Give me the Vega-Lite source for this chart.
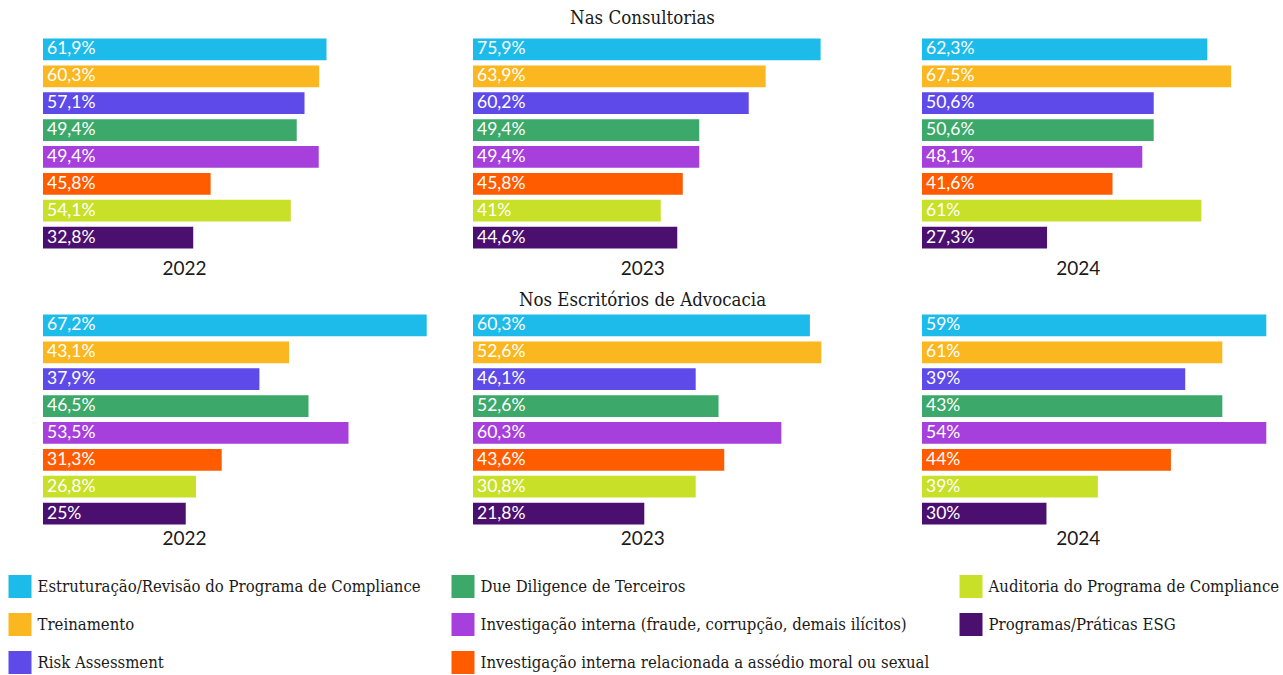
{
  "$schema": "https://vega.github.io/schema/vega-lite/v6.json",
  "padding": {"left": 8, "top": 8, "right": 0, "bottom": 0},
  "background": "white",
  "data": {"values": [
    {"grupo": "Consultorias", "ano": "2022", "servico": "Estruturação/Revisão do Programa de Compliance", "valor": 61.9, "rotulo": "61,9%"},
    {"grupo": "Consultorias", "ano": "2022", "servico": "Treinamento", "valor": 60.3, "rotulo": "60,3%"},
    {"grupo": "Consultorias", "ano": "2022", "servico": "Risk Assessment", "valor": 57.1, "rotulo": "57,1%"},
    {"grupo": "Consultorias", "ano": "2022", "servico": "Due Diligence de Terceiros", "valor": 55.4, "rotulo": "49,4%"},
    {"grupo": "Consultorias", "ano": "2022", "servico": "Investigação interna (fraude, corrupção, demais ilícitos)", "valor": 60.2, "rotulo": "49,4%"},
    {"grupo": "Consultorias", "ano": "2022", "servico": "Investigação interna relacionada a assédio moral ou sexual", "valor": 36.6, "rotulo": "45,8%"},
    {"grupo": "Consultorias", "ano": "2022", "servico": "Auditoria do Programa de Compliance", "valor": 54.1, "rotulo": "54,1%"},
    {"grupo": "Consultorias", "ano": "2022", "servico": "Programas/Práticas ESG", "valor": 32.8, "rotulo": "32,8%"},
    {"grupo": "Consultorias", "ano": "2023", "servico": "Estruturação/Revisão do Programa de Compliance", "valor": 75.9, "rotulo": "75,9%"},
    {"grupo": "Consultorias", "ano": "2023", "servico": "Treinamento", "valor": 63.9, "rotulo": "63,9%"},
    {"grupo": "Consultorias", "ano": "2023", "servico": "Risk Assessment", "valor": 60.2, "rotulo": "60,2%"},
    {"grupo": "Consultorias", "ano": "2023", "servico": "Due Diligence de Terceiros", "valor": 49.4, "rotulo": "49,4%"},
    {"grupo": "Consultorias", "ano": "2023", "servico": "Investigação interna (fraude, corrupção, demais ilícitos)", "valor": 49.4, "rotulo": "49,4%"},
    {"grupo": "Consultorias", "ano": "2023", "servico": "Investigação interna relacionada a assédio moral ou sexual", "valor": 45.8, "rotulo": "45,8%"},
    {"grupo": "Consultorias", "ano": "2023", "servico": "Auditoria do Programa de Compliance", "valor": 41, "rotulo": "41%"},
    {"grupo": "Consultorias", "ano": "2023", "servico": "Programas/Práticas ESG", "valor": 44.6, "rotulo": "44,6%"},
    {"grupo": "Consultorias", "ano": "2024", "servico": "Estruturação/Revisão do Programa de Compliance", "valor": 62.3, "rotulo": "62,3%"},
    {"grupo": "Consultorias", "ano": "2024", "servico": "Treinamento", "valor": 67.5, "rotulo": "67,5%"},
    {"grupo": "Consultorias", "ano": "2024", "servico": "Risk Assessment", "valor": 50.6, "rotulo": "50,6%"},
    {"grupo": "Consultorias", "ano": "2024", "servico": "Due Diligence de Terceiros", "valor": 50.6, "rotulo": "50,6%"},
    {"grupo": "Consultorias", "ano": "2024", "servico": "Investigação interna (fraude, corrupção, demais ilícitos)", "valor": 48.1, "rotulo": "48,1%"},
    {"grupo": "Consultorias", "ano": "2024", "servico": "Investigação interna relacionada a assédio moral ou sexual", "valor": 41.6, "rotulo": "41,6%"},
    {"grupo": "Consultorias", "ano": "2024", "servico": "Auditoria do Programa de Compliance", "valor": 61, "rotulo": "61%"},
    {"grupo": "Consultorias", "ano": "2024", "servico": "Programas/Práticas ESG", "valor": 27.3, "rotulo": "27,3%"},
    {"grupo": "Escritorios", "ano": "2022", "servico": "Estruturação/Revisão do Programa de Compliance", "valor": 67.2, "rotulo": "67,2%"},
    {"grupo": "Escritorios", "ano": "2022", "servico": "Treinamento", "valor": 43.1, "rotulo": "43,1%"},
    {"grupo": "Escritorios", "ano": "2022", "servico": "Risk Assessment", "valor": 37.9, "rotulo": "37,9%"},
    {"grupo": "Escritorios", "ano": "2022", "servico": "Due Diligence de Terceiros", "valor": 46.5, "rotulo": "46,5%"},
    {"grupo": "Escritorios", "ano": "2022", "servico": "Investigação interna (fraude, corrupção, demais ilícitos)", "valor": 53.5, "rotulo": "53,5%"},
    {"grupo": "Escritorios", "ano": "2022", "servico": "Investigação interna relacionada a assédio moral ou sexual", "valor": 31.3, "rotulo": "31,3%"},
    {"grupo": "Escritorios", "ano": "2022", "servico": "Auditoria do Programa de Compliance", "valor": 26.8, "rotulo": "26,8%"},
    {"grupo": "Escritorios", "ano": "2022", "servico": "Programas/Práticas ESG", "valor": 25, "rotulo": "25%"},
    {"grupo": "Escritorios", "ano": "2023", "servico": "Estruturação/Revisão do Programa de Compliance", "valor": 59, "rotulo": "60,3%"},
    {"grupo": "Escritorios", "ano": "2023", "servico": "Treinamento", "valor": 61, "rotulo": "52,6%"},
    {"grupo": "Escritorios", "ano": "2023", "servico": "Risk Assessment", "valor": 39, "rotulo": "46,1%"},
    {"grupo": "Escritorios", "ano": "2023", "servico": "Due Diligence de Terceiros", "valor": 43, "rotulo": "52,6%"},
    {"grupo": "Escritorios", "ano": "2023", "servico": "Investigação interna (fraude, corrupção, demais ilícitos)", "valor": 54, "rotulo": "60,3%"},
    {"grupo": "Escritorios", "ano": "2023", "servico": "Investigação interna relacionada a assédio moral ou sexual", "valor": 44, "rotulo": "43,6%"},
    {"grupo": "Escritorios", "ano": "2023", "servico": "Auditoria do Programa de Compliance", "valor": 39, "rotulo": "30,8%"},
    {"grupo": "Escritorios", "ano": "2023", "servico": "Programas/Práticas ESG", "valor": 30, "rotulo": "21,8%"},
    {"grupo": "Escritorios", "ano": "2024", "servico": "Estruturação/Revisão do Programa de Compliance", "valor": 60.3, "rotulo": "59%"},
    {"grupo": "Escritorios", "ano": "2024", "servico": "Treinamento", "valor": 52.6, "rotulo": "61%"},
    {"grupo": "Escritorios", "ano": "2024", "servico": "Risk Assessment", "valor": 46.1, "rotulo": "39%"},
    {"grupo": "Escritorios", "ano": "2024", "servico": "Due Diligence de Terceiros", "valor": 52.6, "rotulo": "43%"},
    {"grupo": "Escritorios", "ano": "2024", "servico": "Investigação interna (fraude, corrupção, demais ilícitos)", "valor": 60.3, "rotulo": "54%"},
    {"grupo": "Escritorios", "ano": "2024", "servico": "Investigação interna relacionada a assédio moral ou sexual", "valor": 43.6, "rotulo": "44%"},
    {"grupo": "Escritorios", "ano": "2024", "servico": "Auditoria do Programa de Compliance", "valor": 30.8, "rotulo": "39%"},
    {"grupo": "Escritorios", "ano": "2024", "servico": "Programas/Práticas ESG", "valor": 21.8, "rotulo": "30%"}
  ]},
  "config": {
    "view": {"stroke": null},
    "axis": {"labels": false, "ticks": false, "domain": false, "grid": false, "minExtent": 0, "titleFont": "Lato", "titleFontSize": 19, "titleFontWeight": "normal", "titleColor": "#1a1a1a"},
    "title": {"font": "DejaVu Serif Condensed", "fontSize": 18.5, "fontWeight": "normal", "color": "#1a1a1a", "anchor": "middle", "baseline": "alphabetic"},
    "concat": {"spacing": 40}
  },
  "spacing": 12,
  "vconcat": [
    {
      "title": {"text": "Nas Consultorias", "offset": 8.7, "dx": -16},
      "hconcat": [
        {
          "width": 390, "height": 215,
          "transform": [{"filter": "datum.grupo == 'Consultorias' && datum.ano == '2022'"}],
          "encoding": {
            "y": {"field": "servico", "type": "nominal", "axis": null, "sort": ["Estruturação/Revisão do Programa de Compliance", "Treinamento", "Risk Assessment", "Due Diligence de Terceiros", "Investigação interna (fraude, corrupção, demais ilícitos)", "Investigação interna relacionada a assédio moral ou sexual", "Auditoria do Programa de Compliance", "Programas/Práticas ESG"], "scale": {"paddingInner": 0.192, "paddingOuter": 0.096}}
          },
          "layer": [
            {"mark": {"type": "bar"},
             "encoding": {
               "x": {"field": "valor", "type": "quantitative", "scale": {"domain": [0, 85.15], "nice": false}, "axis": {"title": "2022", "titlePadding": 8, "titleX": 141, "titleAlign": "center"}},
               "color": {"field": "servico", "type": "nominal", "title": null,
                 "scale": {"domain": ["Estruturação/Revisão do Programa de Compliance", "Treinamento", "Risk Assessment", "Due Diligence de Terceiros", "Investigação interna (fraude, corrupção, demais ilícitos)", "Investigação interna relacionada a assédio moral ou sexual", "Auditoria do Programa de Compliance", "Programas/Práticas ESG"],
                           "range": ["#1cbbea", "#fab71f", "#5e4ae8", "#3ca96a", "#a63fdc", "#ff5c00", "#c8e028", "#4b0f70"]},
                 "legend": {"orient": "none", "legendX": -34.5, "legendY": 539, "columns": 3, "columnPadding": 30, "rowPadding": 15, "symbolType": "square", "symbolSize": 529, "symbolStrokeWidth": 0, "symbolOpacity": 1, "labelFont": "DejaVu Serif Condensed", "labelFontSize": 16.6, "labelColor": "#1a1a1a", "labelOffset": 6, "labelLimit": 800}}
             }},
            {"mark": {"type": "text", "align": "left", "baseline": "middle", "dx": 4, "color": "white", "font": "Lato", "fontSize": 17.5},
             "encoding": {"x": {"datum": 0}, "text": {"field": "rotulo"}}}
          ]
        },
        {
          "width": 408.5, "height": 215,
          "transform": [{"filter": "datum.grupo == 'Consultorias' && datum.ano == '2023'"}],
          "encoding": {
            "y": {"field": "servico", "type": "nominal", "axis": null, "sort": ["Estruturação/Revisão do Programa de Compliance", "Treinamento", "Risk Assessment", "Due Diligence de Terceiros", "Investigação interna (fraude, corrupção, demais ilícitos)", "Investigação interna relacionada a assédio moral ou sexual", "Auditoria do Programa de Compliance", "Programas/Práticas ESG"], "scale": {"paddingInner": 0.192, "paddingOuter": 0.096}}
          },
          "layer": [
            {"mark": {"type": "bar"},
             "encoding": {
               "x": {"field": "valor", "type": "quantitative", "scale": {"domain": [0, 89.19], "nice": false}, "axis": {"title": "2023", "titlePadding": 8, "titleX": 169.2, "titleAlign": "center"}},
               "color": {"field": "servico", "type": "nominal", "title": null,
                 "scale": {"domain": ["Estruturação/Revisão do Programa de Compliance", "Treinamento", "Risk Assessment", "Due Diligence de Terceiros", "Investigação interna (fraude, corrupção, demais ilícitos)", "Investigação interna relacionada a assédio moral ou sexual", "Auditoria do Programa de Compliance", "Programas/Práticas ESG"],
                           "range": ["#1cbbea", "#fab71f", "#5e4ae8", "#3ca96a", "#a63fdc", "#ff5c00", "#c8e028", "#4b0f70"]},
                 "legend": {"orient": "none", "legendX": -34.5, "legendY": 539, "columns": 3, "columnPadding": 30, "rowPadding": 15, "symbolType": "square", "symbolSize": 529, "symbolStrokeWidth": 0, "symbolOpacity": 1, "labelFont": "DejaVu Serif Condensed", "labelFontSize": 16.6, "labelColor": "#1a1a1a", "labelOffset": 6, "labelLimit": 800}}
             }},
            {"mark": {"type": "text", "align": "left", "baseline": "middle", "dx": 4, "color": "white", "font": "Lato", "fontSize": 17.5},
             "encoding": {"x": {"datum": 0}, "text": {"field": "rotulo"}}}
          ]
        },
        {
          "width": 352, "height": 215,
          "transform": [{"filter": "datum.grupo == 'Consultorias' && datum.ano == '2024'"}],
          "encoding": {
            "y": {"field": "servico", "type": "nominal", "axis": null, "sort": ["Estruturação/Revisão do Programa de Compliance", "Treinamento", "Risk Assessment", "Due Diligence de Terceiros", "Investigação interna (fraude, corrupção, demais ilícitos)", "Investigação interna relacionada a assédio moral ou sexual", "Auditoria do Programa de Compliance", "Programas/Práticas ESG"], "scale": {"paddingInner": 0.192, "paddingOuter": 0.096}}
          },
          "layer": [
            {"mark": {"type": "bar"},
             "encoding": {
               "x": {"field": "valor", "type": "quantitative", "scale": {"domain": [0, 76.86], "nice": false}, "axis": {"title": "2024", "titlePadding": 8, "titleX": 155.7, "titleAlign": "center"}},
               "color": {"field": "servico", "type": "nominal", "title": null,
                 "scale": {"domain": ["Estruturação/Revisão do Programa de Compliance", "Treinamento", "Risk Assessment", "Due Diligence de Terceiros", "Investigação interna (fraude, corrupção, demais ilícitos)", "Investigação interna relacionada a assédio moral ou sexual", "Auditoria do Programa de Compliance", "Programas/Práticas ESG"],
                           "range": ["#1cbbea", "#fab71f", "#5e4ae8", "#3ca96a", "#a63fdc", "#ff5c00", "#c8e028", "#4b0f70"]},
                 "legend": {"orient": "none", "legendX": -34.5, "legendY": 539, "columns": 3, "columnPadding": 30, "rowPadding": 15, "symbolType": "square", "symbolSize": 529, "symbolStrokeWidth": 0, "symbolOpacity": 1, "labelFont": "DejaVu Serif Condensed", "labelFontSize": 16.6, "labelColor": "#1a1a1a", "labelOffset": 6, "labelLimit": 800}}
             }},
            {"mark": {"type": "text", "align": "left", "baseline": "middle", "dx": 4, "color": "white", "font": "Lato", "fontSize": 17.5},
             "encoding": {"x": {"datum": 0}, "text": {"field": "rotulo"}}}
          ]
        }
      ]
    },
    {
      "title": {"text": "Nos Escritórios de Advocacia", "offset": 3, "dx": -16},
      "hconcat": [
        {
          "width": 390, "height": 215,
          "transform": [{"filter": "datum.grupo == 'Escritorios' && datum.ano == '2022'"}],
          "encoding": {
            "y": {"field": "servico", "type": "nominal", "axis": null, "sort": ["Estruturação/Revisão do Programa de Compliance", "Treinamento", "Risk Assessment", "Due Diligence de Terceiros", "Investigação interna (fraude, corrupção, demais ilícitos)", "Investigação interna relacionada a assédio moral ou sexual", "Auditoria do Programa de Compliance", "Programas/Práticas ESG"], "scale": {"paddingInner": 0.192, "paddingOuter": 0.096}}
          },
          "layer": [
            {"mark": {"type": "bar"},
             "encoding": {
               "x": {"field": "valor", "type": "quantitative", "scale": {"domain": [0, 68.30], "nice": false}, "axis": {"title": "2022", "titlePadding": 2, "titleX": 141, "titleAlign": "center"}},
               "color": {"field": "servico", "type": "nominal", "title": null,
                 "scale": {"domain": ["Estruturação/Revisão do Programa de Compliance", "Treinamento", "Risk Assessment", "Due Diligence de Terceiros", "Investigação interna (fraude, corrupção, demais ilícitos)", "Investigação interna relacionada a assédio moral ou sexual", "Auditoria do Programa de Compliance", "Programas/Práticas ESG"],
                           "range": ["#1cbbea", "#fab71f", "#5e4ae8", "#3ca96a", "#a63fdc", "#ff5c00", "#c8e028", "#4b0f70"]},
                 "legend": {"orient": "none", "legendX": -34.5, "legendY": 539, "columns": 3, "columnPadding": 30, "rowPadding": 15, "symbolType": "square", "symbolSize": 529, "symbolStrokeWidth": 0, "symbolOpacity": 1, "labelFont": "DejaVu Serif Condensed", "labelFontSize": 16.6, "labelColor": "#1a1a1a", "labelOffset": 6, "labelLimit": 800}}
             }},
            {"mark": {"type": "text", "align": "left", "baseline": "middle", "dx": 4, "color": "white", "font": "Lato", "fontSize": 17.5},
             "encoding": {"x": {"datum": 0}, "text": {"field": "rotulo"}}}
          ]
        },
        {
          "width": 408.5, "height": 215,
          "transform": [{"filter": "datum.grupo == 'Escritorios' && datum.ano == '2023'"}],
          "encoding": {
            "y": {"field": "servico", "type": "nominal", "axis": null, "sort": ["Estruturação/Revisão do Programa de Compliance", "Treinamento", "Risk Assessment", "Due Diligence de Terceiros", "Investigação interna (fraude, corrupção, demais ilícitos)", "Investigação interna relacionada a assédio moral ou sexual", "Auditoria do Programa de Compliance", "Programas/Práticas ESG"], "scale": {"paddingInner": 0.192, "paddingOuter": 0.096}}
          },
          "layer": [
            {"mark": {"type": "bar"},
             "encoding": {
               "x": {"field": "valor", "type": "quantitative", "scale": {"domain": [0, 71.54], "nice": false}, "axis": {"title": "2023", "titlePadding": 2, "titleX": 169.2, "titleAlign": "center"}},
               "color": {"field": "servico", "type": "nominal", "title": null,
                 "scale": {"domain": ["Estruturação/Revisão do Programa de Compliance", "Treinamento", "Risk Assessment", "Due Diligence de Terceiros", "Investigação interna (fraude, corrupção, demais ilícitos)", "Investigação interna relacionada a assédio moral ou sexual", "Auditoria do Programa de Compliance", "Programas/Práticas ESG"],
                           "range": ["#1cbbea", "#fab71f", "#5e4ae8", "#3ca96a", "#a63fdc", "#ff5c00", "#c8e028", "#4b0f70"]},
                 "legend": {"orient": "none", "legendX": -34.5, "legendY": 539, "columns": 3, "columnPadding": 30, "rowPadding": 15, "symbolType": "square", "symbolSize": 529, "symbolStrokeWidth": 0, "symbolOpacity": 1, "labelFont": "DejaVu Serif Condensed", "labelFontSize": 16.6, "labelColor": "#1a1a1a", "labelOffset": 6, "labelLimit": 800}}
             }},
            {"mark": {"type": "text", "align": "left", "baseline": "middle", "dx": 4, "color": "white", "font": "Lato", "fontSize": 17.5},
             "encoding": {"x": {"datum": 0}, "text": {"field": "rotulo"}}}
          ]
        },
        {
          "width": 352, "height": 215,
          "transform": [{"filter": "datum.grupo == 'Escritorios' && datum.ano == '2024'"}],
          "encoding": {
            "y": {"field": "servico", "type": "nominal", "axis": null, "sort": ["Estruturação/Revisão do Programa de Compliance", "Treinamento", "Risk Assessment", "Due Diligence de Terceiros", "Investigação interna (fraude, corrupção, demais ilícitos)", "Investigação interna relacionada a assédio moral ou sexual", "Auditoria do Programa de Compliance", "Programas/Práticas ESG"], "scale": {"paddingInner": 0.192, "paddingOuter": 0.096}}
          },
          "layer": [
            {"mark": {"type": "bar"},
             "encoding": {
               "x": {"field": "valor", "type": "quantitative", "scale": {"domain": [0, 61.65], "nice": false}, "axis": {"title": "2024", "titlePadding": 2, "titleX": 155.7, "titleAlign": "center"}},
               "color": {"field": "servico", "type": "nominal", "title": null,
                 "scale": {"domain": ["Estruturação/Revisão do Programa de Compliance", "Treinamento", "Risk Assessment", "Due Diligence de Terceiros", "Investigação interna (fraude, corrupção, demais ilícitos)", "Investigação interna relacionada a assédio moral ou sexual", "Auditoria do Programa de Compliance", "Programas/Práticas ESG"],
                           "range": ["#1cbbea", "#fab71f", "#5e4ae8", "#3ca96a", "#a63fdc", "#ff5c00", "#c8e028", "#4b0f70"]},
                 "legend": {"orient": "none", "legendX": -34.5, "legendY": 539, "columns": 3, "columnPadding": 30, "rowPadding": 15, "symbolType": "square", "symbolSize": 529, "symbolStrokeWidth": 0, "symbolOpacity": 1, "labelFont": "DejaVu Serif Condensed", "labelFontSize": 16.6, "labelColor": "#1a1a1a", "labelOffset": 6, "labelLimit": 800}}
             }},
            {"mark": {"type": "text", "align": "left", "baseline": "middle", "dx": 4, "color": "white", "font": "Lato", "fontSize": 17.5},
             "encoding": {"x": {"datum": 0}, "text": {"field": "rotulo"}}}
          ]
        }
      ]
    }
  ]
}
